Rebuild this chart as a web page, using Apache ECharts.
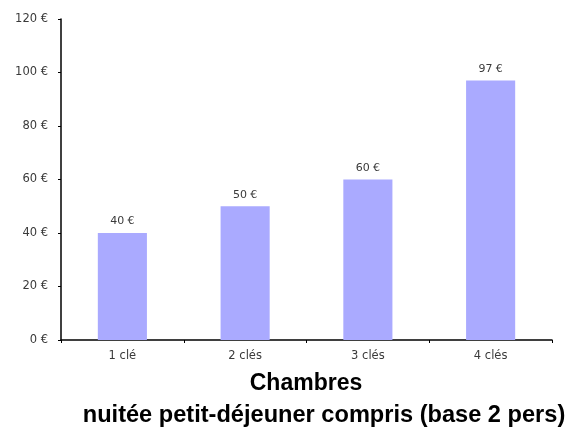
<!DOCTYPE html>
<html><head><meta charset="utf-8">
<script src="https://cdn.jsdelivr.net/npm/echarts@6/dist/echarts.min.js"></script>
<style>html,body{margin:0;padding:0;background:#fff}#c{width:577px;height:446px}</style>
</head><body><div id="c"></div>
<script>
const categories = ['1 clé', '2 clés', '3 clés', '4 clés'];
const prices = [40, 50, 60, 97];
const yTicks = [0, 20, 40, 60, 80, 100, 120];
const titleLine1 = 'Chambres';
const titleLine2 = 'nuitée petit-déjeuner compris (base 2 pers)';

const chart = echarts.init(document.getElementById('c'), null, {renderer: 'canvas'});
chart.setOption({
  animation: false,
  backgroundColor: '#fff',
  title: [
    {text: titleLine1, left: 301, top: 367, textAlign: 'center',
     textStyle: {fontFamily: 'Liberation Sans', fontWeight: 'bold', fontSize: 23, color: '#000'}},
    {text: titleLine2, left: 319, top: 398, textAlign: 'center',
     textStyle: {fontFamily: 'Liberation Sans', fontWeight: 'bold', fontSize: 23.6, color: '#000'}}
  ],
  grid: {left: 61, right: 25, top: 19, bottom: 106, containLabel: false},
  xAxis: {
    type: 'category', data: categories,
    axisLine: {lineStyle: {color: '#000', width: 1.5}},
    axisTick: {show: true, alignWithLabel: false, length: 3, lineStyle: {color: '#000'}},
    axisLabel: {fontFamily: 'DejaVu Sans', fontSize: 11.5, color: '#3a3a3a', margin: 10}
  },
  yAxis: {
    type: 'value', min: yTicks[0], max: yTicks[yTicks.length - 1], interval: 20,
    splitLine: {show: false},
    axisLine: {show: true, lineStyle: {color: '#000', width: 1.5}},
    axisTick: {show: true, length: 3, lineStyle: {color: '#000'}},
    axisLabel: {fontFamily: 'DejaVu Sans', fontSize: 11.5, color: '#3a3a3a', margin: 13,
      formatter: v => v + ' €'}
  },
  series: [{
    type: 'bar', data: prices, barWidth: '40%',
    itemStyle: {color: '#aaaaff'},
    label: {show: true, position: 'top', distance: 6, fontFamily: 'DejaVu Sans', fontSize: 11, color: '#3a3a3a',
      formatter: p => p.value + ' €'}
  }]
});
</script></body></html>
